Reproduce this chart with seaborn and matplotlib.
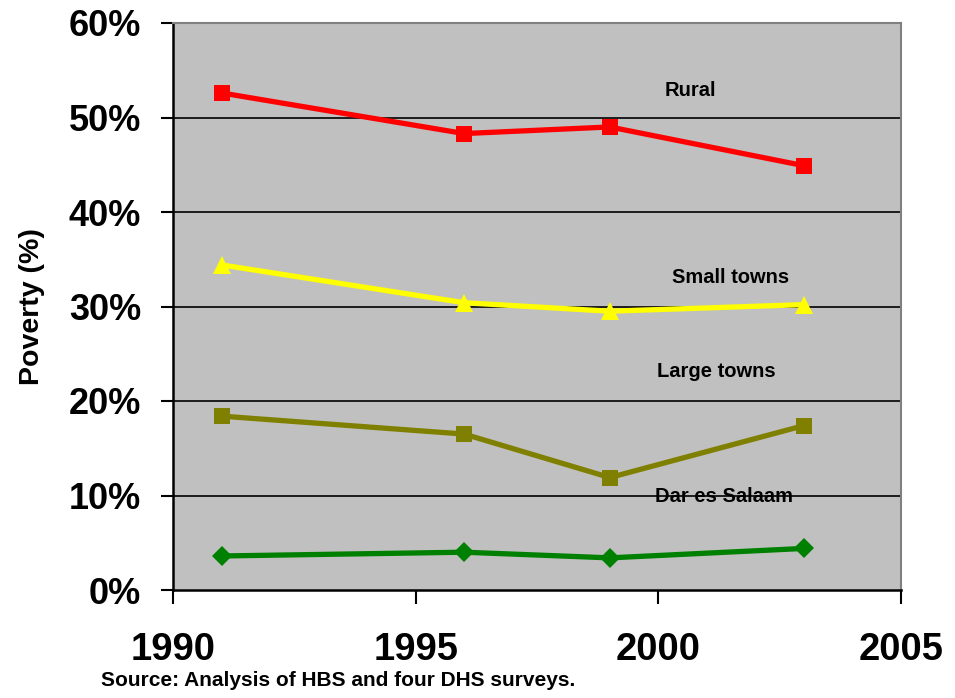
import matplotlib
matplotlib.use("Agg")
import matplotlib.pyplot as plt
import seaborn as sns
import pandas as pd
import numpy as np

years = [1991, 1996, 1999, 2003]
rural = [52.6, 48.3, 49.0, 44.9]
small_towns = [34.4, 30.4, 29.5, 30.2]
large_towns = [18.4, 16.5, 11.9, 17.4]
dar = [3.6, 4.0, 3.4, 4.4]

series_names = ["Rural", "Small towns", "Large towns", "Dar es Salaam"]
colors = ["#FF0000", "#FFFF00", "#808000", "#008000"]
markers = ["s", "^", "s", "D"]

rows = []
for name, vals in zip(series_names, [rural, small_towns, large_towns, dar]):
    for y, v in zip(years, vals):
        rows.append({"Year": y, "Poverty": v, "Area": name})
df = pd.DataFrame(rows)

sns.set_style("white")
plt.rcParams['font.family'] = ['Liberation Sans', 'DejaVu Sans']
plt.rcParams['font.weight'] = 'bold'
for k in ["text.color", "axes.labelcolor", "xtick.color", "ytick.color"]:
    plt.rcParams[k] = "black"

fig = plt.figure(figsize=(9.55, 6.98), dpi=100)
ax = fig.add_axes([173/955, 1-590/698, (901-173)/955, (590-23)/698])
ax.set_facecolor("#C0C0C0")

sns.lineplot(data=df, x="Year", y="Poverty", hue="Area", style="Area",
             palette=dict(zip(series_names, colors)),
             markers=dict(zip(series_names, markers)),
             dashes=False, linewidth=3.8, markersize=11.5, markeredgewidth=0,
             legend=False, ax=ax)
for line, m in zip(ax.get_lines(), markers):
    if m == "D":
        line.set_markersize(10)
    elif m == "^":
        line.set_markersize(12.5)

ax.set_xlim(1990, 2005)
ax.set_ylim(0, 60)
ax.set_xticks([1990, 1995, 2000, 2005])
ax.set_yticks(np.arange(0, 61, 10))
ax.set_yticklabels([f"{v}%" for v in range(0, 61, 10)])
for y in range(10, 60, 10):
    ax.axhline(y, color="black", linewidth=1.2, zorder=0.5)

ax.tick_params(axis="y", direction="out", length=9, width=1.5, labelsize=26, pad=14, left=True)
ax.tick_params(axis="x", direction="out", length=10, width=1.5, labelsize=27.5, pad=20, bottom=True)
for lab in ax.get_xticklabels() + ax.get_yticklabels():
    lab.set_fontweight("bold")

for s in ["left", "bottom"]:
    ax.spines[s].set_color("black")
    ax.spines[s].set_linewidth(1.8)
for s in ["top", "right"]:
    ax.spines[s].set_color("#808080")
    ax.spines[s].set_linewidth(1.5)

ax.set_xlabel("")
ax.set_ylabel("Poverty (%)", fontsize=20.5, fontweight="bold", labelpad=17)

label_pos = {"Rural": (2000.67, 52.9), "Small towns": (2001.48, 33.1),
             "Large towns": (2001.2, 23.1), "Dar es Salaam": (2001.35, 9.9)}
for name in series_names:
    x, y = label_pos[name]
    ax.text(x, y, name, fontsize=14.5, fontweight="bold", ha="center", va="center")

fig.text(101/955, 1-681/698, "Source: Analysis of HBS and four DHS surveys.",
         fontsize=15, fontweight="bold", ha="left", va="center")

fig.savefig("out.png", dpi=100)
